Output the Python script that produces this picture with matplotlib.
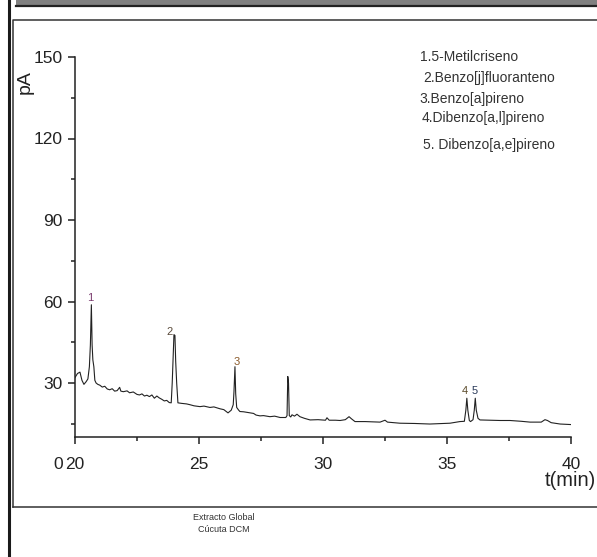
import matplotlib
matplotlib.use("Agg")
import matplotlib.pyplot as plt
from matplotlib.lines import Line2D
from matplotlib.patches import Rectangle
from matplotlib.ticker import MultipleLocator

plt.rcParams['font.family'] = ['Liberation Sans', 'DejaVu Sans']

# chromatogram (time in min, signal in pA)
time = [20.0, 20.1, 20.2, 20.28, 20.36, 20.45, 20.52, 20.58, 20.62, 20.66,
        20.69, 20.72, 20.76, 20.8, 20.85, 20.92, 21.0, 21.1, 21.2, 21.3,
        21.4, 21.5, 21.6, 21.7, 21.8, 21.85, 21.95, 22.1, 22.2, 22.35,
        22.5, 22.6, 22.7, 22.8, 22.9, 23.0, 23.1, 23.2, 23.3, 23.4,
        23.5, 23.6, 23.7, 23.8, 23.88, 23.92, 23.95, 23.99, 24.03, 24.06,
        24.1, 24.15, 24.3, 24.5, 24.64, 24.8, 25.04, 25.2, 25.44, 25.6,
        25.85, 26.0, 26.17, 26.3, 26.38, 26.41, 26.45, 26.48, 26.52, 26.6,
        26.65, 26.8, 27.06, 27.2, 27.3, 27.46, 27.6, 27.86, 28.05, 28.27,
        28.5, 28.55, 28.58, 28.61, 28.64, 28.7, 28.75, 28.85, 28.95, 29.07,
        29.25, 29.48, 29.8, 30.1, 30.16, 30.25, 30.5, 30.69, 30.9, 31.05,
        31.15, 31.29, 31.7, 32.3, 32.5, 32.6, 33.1, 33.7, 34.31, 34.8,
        35.12, 35.52, 35.7, 35.76, 35.8, 35.84, 35.9, 35.95, 36.05, 36.1,
        36.14, 36.18, 36.25, 36.33, 36.7, 37.14, 37.54, 38.0, 38.35, 38.8,
        38.95, 39.05, 39.2, 39.56, 40.0]
signal = [32.0, 33.5, 34.0, 31.0, 29.5, 30.5, 31.5, 36.0, 44.0, 58.8,
          44.0, 38.5, 36.0, 31.0, 30.0, 29.5, 29.2, 28.5, 28.8, 27.8,
          27.5, 27.9, 27.0, 27.2, 28.4, 27.0, 26.8, 27.1, 26.4, 26.7,
          25.8, 25.6, 26.0, 25.2, 25.5, 25.0, 25.6, 24.4, 25.2, 24.5,
          24.0, 23.4, 23.6, 22.8, 22.7, 30.0, 37.8, 47.8, 47.5, 38.0,
          30.0, 22.7, 22.5, 22.3, 22.0, 21.6, 21.3, 21.5, 21.0, 21.2,
          20.5, 20.2, 19.0, 20.0, 22.0, 26.8, 36.0, 26.0, 21.0, 20.0,
          19.5, 19.4, 19.0, 18.8, 18.2, 17.9, 18.0, 17.6, 17.8, 17.3,
          17.3, 18.0, 32.4, 30.0, 18.0, 17.5, 18.3, 17.8, 18.5, 17.6,
          17.0, 16.4, 16.5, 16.3, 17.2, 16.3, 16.3, 16.2, 16.5, 17.6,
          16.8, 15.8, 15.8, 15.6, 16.3, 15.6, 15.2, 15.1, 14.9, 15.1,
          15.2, 15.8, 15.9, 20.0, 24.4, 20.0, 16.2, 15.8, 16.5, 20.0,
          24.4, 20.0, 17.0, 16.4, 16.3, 16.2, 16.2, 15.9, 15.6, 15.6,
          16.5, 16.2, 15.4, 14.9, 14.7]

peak_labels = ['1', '2', '3', '4', '5']
peak_t = [20.6, 23.83, 26.53, 35.72, 36.1]
peak_y = [61.4, 48.9, 37.8, 27.1, 27.1]
peak_colors = ['#7a3b6e', '#5a4a3a', '#8a5a2a', '#5a4a2a', '#2a3a5a']

compounds = ['1.5-Metilcriseno', '2.Benzo[j]fluoranteno', '3.Benzo[a]pireno',
             '4.Dibenzo[a,l]pireno', '5. Dibenzo[a,e]pireno']

W, H = 597, 557
fig = plt.figure(figsize=(W / 100, H / 100), dpi=100)

# page decorations
fig.add_artist(Rectangle((16 / W, 1 - 5 / H), 1, 5 / H, transform=fig.transFigure,
                         facecolor='#808080', edgecolor='none'))
fig.add_artist(Line2D([16 / W, 1], [1 - 5.5 / H, 1 - 5.5 / H], transform=fig.transFigure,
                      color='#222222', lw=1.6))
fig.add_artist(Line2D([8.5 / W, 8.5 / W], [0, 1], transform=fig.transFigure,
                      color='#1a1a1a', lw=2.2))
fig.add_artist(Line2D([13 / W, 13 / W, 1], [1 - 507 / H, 1 - 20 / H, 1 - 20 / H],
                      transform=fig.transFigure, color='#333333', lw=1.1))
fig.add_artist(Line2D([13 / W, 1], [1 - 507 / H, 1 - 507 / H],
                      transform=fig.transFigure, color='#333333', lw=1.1))

ax = fig.add_axes([75 / W, 1 - 464.5 / H, 496 / W, 407.5 / H])
ax.plot(time, signal, color='#222222', lw=0.8)

ax.set_xlim(20, 40)
ax.set_ylim(0, 150)
ax.spines['top'].set_visible(False)
ax.spines['right'].set_visible(False)
ax.spines['bottom'].set_position(('data', 10))
ax.spines['left'].set_bounds(10, 150)
for s in ['left', 'bottom']:
    ax.spines[s].set_linewidth(1.1)
    ax.spines[s].set_color('#222222')

ax.set_xticks([20, 25, 30, 35, 40])
ax.xaxis.set_minor_locator(MultipleLocator(2.5))
ax.set_yticks([30, 60, 90, 120, 150])
ax.set_yticks([15, 45, 75, 105, 135], minor=True)
ax.tick_params(axis='both', which='major', length=5, width=1.1, color='#222222',
               labelsize=12.5, labelcolor='#222222')
ax.tick_params(axis='both', which='minor', length=3, width=1.1, color='#222222')
ax.tick_params(axis='x', which='major', pad=9)
ax.tick_params(axis='y', which='major', pad=4)
ax.patch.set_visible(False)

ax.text(-0.025, 0, '0', transform=ax.get_yaxis_transform(), ha='right', va='center',
        fontsize=12.5, color='#222222', clip_on=False)

for lab, t, y, c in zip(peak_labels, peak_t, peak_y, peak_colors):
    ax.text(t, y, lab, ha='center', va='center', fontsize=8, color=c)

fig.text(25 / W, 1 - 82 / H, 'pA', rotation=90, ha='center', va='center',
         fontsize=14, color='#222222')
fig.text(545 / W, 1 - 481 / H, 't(min)', ha='left', va='center',
         fontsize=14.5, color='#222222')

leg_x = [420, 423, 419, 422, 423]
leg_y = [57, 78, 99, 118, 145]
for name, x, y in zip(compounds, leg_x, leg_y):
    fig.text(x / W, 1 - y / H, name, ha='left', va='center', fontsize=10, color='#333333')

fig.text(224 / W, 1 - 518 / H, 'Extracto Global', ha='center', va='center',
         fontsize=6.5, color='#333333')
fig.text(224 / W, 1 - 530 / H, 'Cúcuta DCM', ha='center', va='center',
         fontsize=6.5, color='#333333')

fig.savefig('out.png', dpi=100)
